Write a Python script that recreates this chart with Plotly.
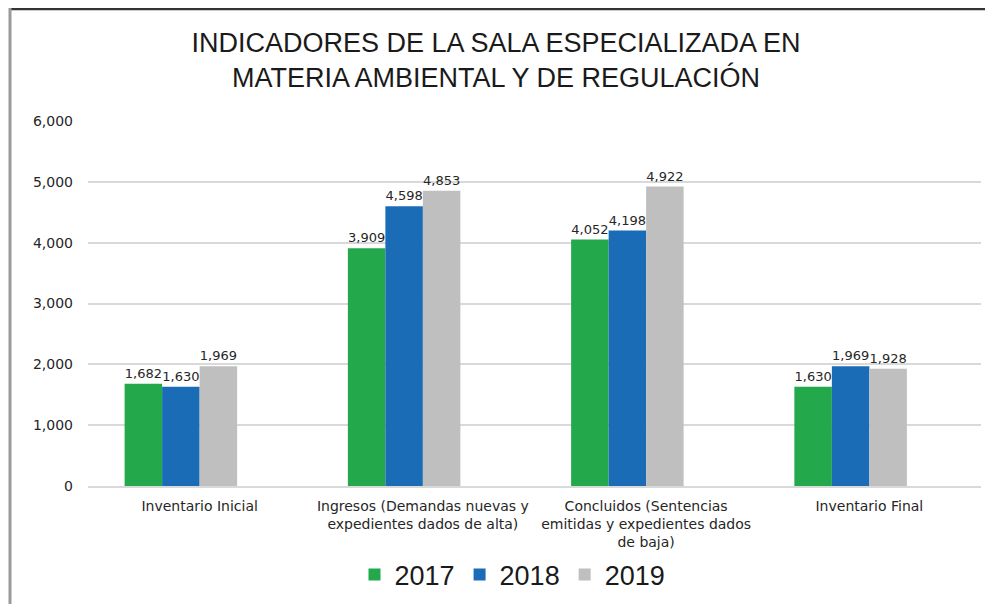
import plotly.graph_objects as go

categories = [
    "Inventario Inicial",
    "Ingresos (Demandas nuevas y<br>expedientes dados de alta)",
    "Concluidos (Sentencias<br>emitidas y expedientes dados<br>de baja)",
    "Inventario Final",
]
years = ["2017", "2018", "2019"]
values_2017 = [1682, 3909, 4052, 1630]
values_2018 = [1630, 4598, 4198, 1969]
values_2019 = [1969, 4853, 4922, 1928]
empty_series = [0, 0, 0, 0]  # the source chart reserves a fourth, empty bar slot
colors = ["#23A84B", "#1B6CB7", "#BFBFBF"]
y_ticks = [0, 1000, 2000, 3000, 4000, 5000, 6000]

# page has an 8px body margin, so the figure is 985x596
W, H = 985, 596
L, R, T, B = 80, 12, 113, 118
pw, ph = W - L - R, H - T - B

def px_x(p):
    return (p - L) / pw

def px_y(p):
    return (H - B - p) / ph

small_font = "DejaVu Sans, Verdana, sans-serif"
big_font = "Liberation Sans, Arial, sans-serif"

fig = go.Figure()
for name, vals, col in zip(years, [values_2017, values_2018, values_2019], colors):
    fig.add_trace(go.Bar(
        name=name, x=categories, y=vals, marker_color=col, marker_line_width=0,
        text=[f"{v:,}" for v in vals], textposition="outside", cliponaxis=False,
        textfont=dict(family=small_font, size=13, color="#262626"),
    ))
fig.add_trace(go.Bar(
    name="", x=categories, y=empty_series, showlegend=False, hoverinfo="skip",
    marker_color="rgba(0,0,0,0)", marker_line_width=0,
))

fig.update_layout(
    width=W, height=H,
    margin=dict(l=L, r=R, t=T, b=B, autoexpand=False),
    paper_bgcolor="white", plot_bgcolor="white",
    barmode="group", bargap=0.328, bargroupgap=0,
    title=dict(
        text="INDICADORES DE LA SALA ESPECIALIZADA EN<br>MATERIA AMBIENTAL Y DE REGULACIÓN",
        x=488 / W, xref="container", xanchor="center", y=1 - 43.5 / H, yanchor="middle",
        font=dict(family=big_font, size=27, color="#1a1a1a"),
    ),
    legend=dict(
        orientation="h", x=0.5 - 22 / pw, xanchor="center", y=px_y(567), yanchor="middle",
        font=dict(family=big_font, size=27, color="#1a1a1a"),
        itemwidth=30, traceorder="normal",
    ),
    xaxis=dict(
        tickfont=dict(family=small_font, size=14, color="#262626"),
        showline=True, linecolor="#d9d9d9", linewidth=1.5, ticks="",
        ticklabelstandoff=6, automargin=False,
    ),
    yaxis=dict(
        range=[0, 6000], tickvals=y_ticks, tickformat=",",
        tickfont=dict(family=small_font, size=14, color="#262626"),
        showgrid=True, gridcolor="#d9d9d9", gridwidth=1.5,
        zeroline=False, showline=False, ticks="", ticklabelstandoff=14,
        automargin=False,
    ),
    shapes=[
        dict(type="line", xref="paper", yref="paper", x0=px_x(1), x1=px_x(W), y0=px_y(1), y1=px_y(1),
             line=dict(color="#333333", width=2.5)),
        dict(type="line", xref="paper", yref="paper", x0=px_x(2), x1=px_x(2), y0=px_y(0), y1=px_y(H),
             line=dict(color="#9a9a9a", width=3)),
    ],
)

fig.write_html("out.html")
